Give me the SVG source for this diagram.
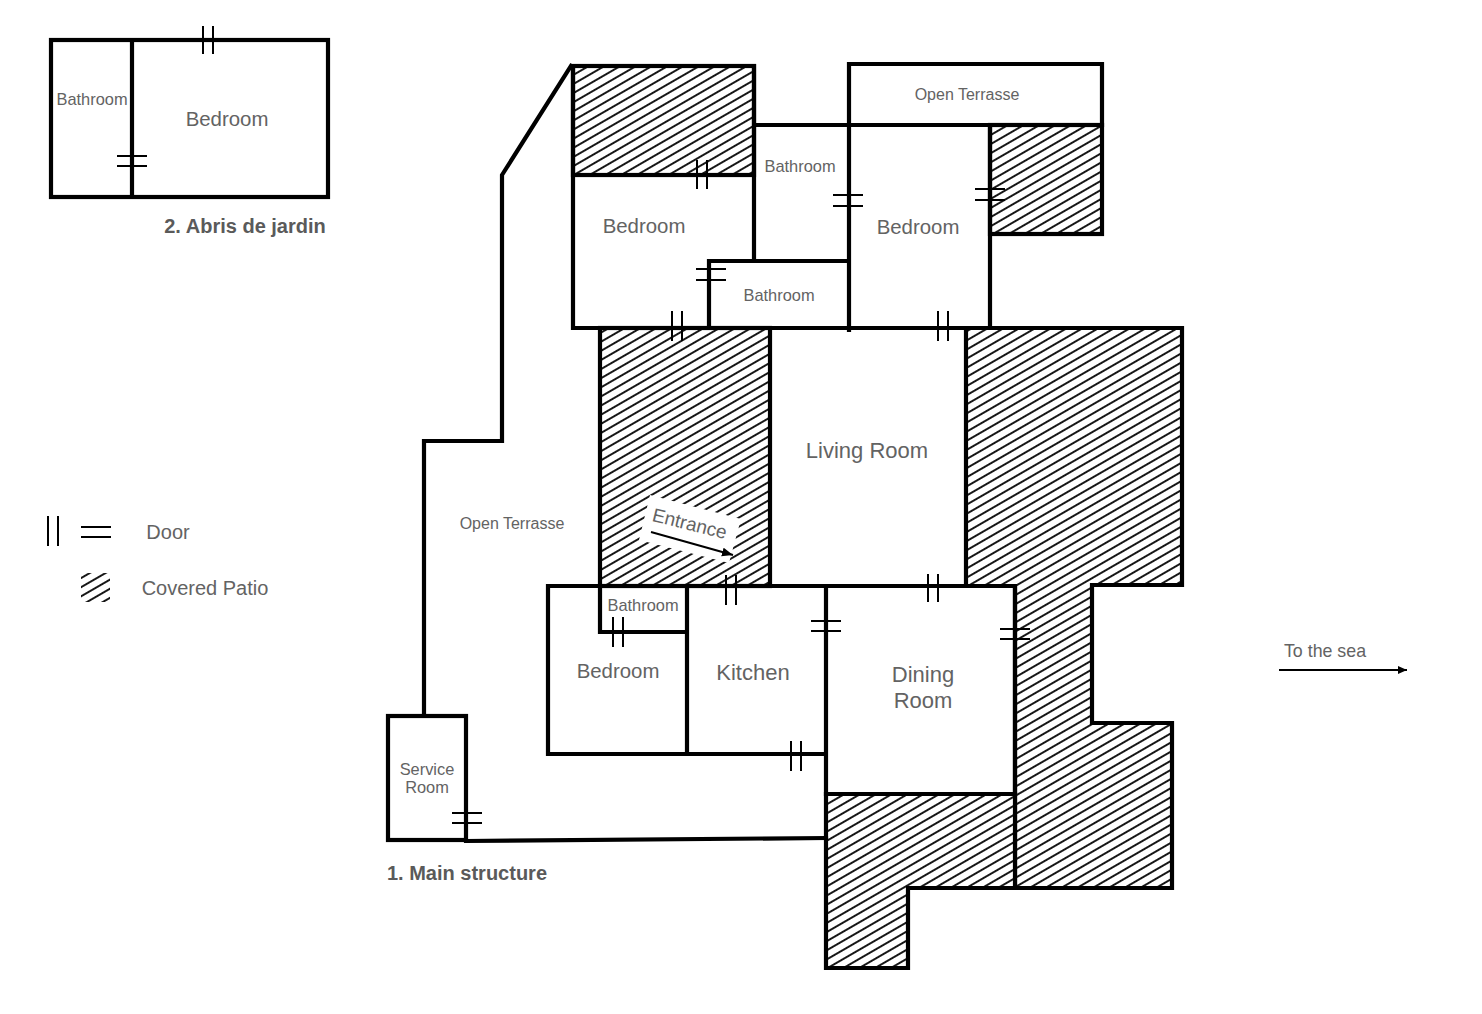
<svg xmlns="http://www.w3.org/2000/svg" width="1482" height="1014" viewBox="0 0 1482 1014">
<style>
text{font-family:"Liberation Sans",Arial,sans-serif;fill:#636363;text-anchor:middle}
.w{fill:none;stroke:#000;stroke-width:4.2;stroke-linecap:square;stroke-linejoin:miter}
.h{fill:url(#hatch);stroke:#000;stroke-width:4.2}
.d{fill:none;stroke:#000;stroke-width:2}
.s{font-size:16.4px}.m{font-size:20.4px}.l{font-size:22px}.b{font-size:20px;font-weight:bold;fill:#5a5a5a}
</style>
<defs>
<pattern id="hatch" width="10" height="7.9" patternUnits="userSpaceOnUse" patternTransform="rotate(-30)">
<rect width="10" height="7.9" fill="#fff"/><line x1="0" y1="3.95" x2="10" y2="3.95" stroke="#000" stroke-width="1.8"/>
</pattern>
<marker id="ah" markerWidth="12" markerHeight="10" refX="11" refY="4.5" orient="auto" markerUnits="userSpaceOnUse"><path d="M0 0L11 4.5L0 9Z" fill="#000"/></marker>
<marker id="as" markerWidth="10" markerHeight="10" refX="9" refY="4" orient="auto" markerUnits="userSpaceOnUse"><path d="M0 0L9 4L0 8Z" fill="#000"/></marker>
</defs>
<rect width="1482" height="1014" fill="#fff"/>
<g id="patios">
<rect class="h" x="573" y="66" width="181" height="109"/>
<rect class="h" x="990" y="125" width="112" height="109"/>
<rect class="h" x="600" y="328" width="170" height="258"/>
<path class="h" d="M966 328H1182V585H1092V723H1172V888H1015V586H966Z"/>
<path class="h" d="M826 794H1015V888H908V968H826Z"/>
</g>
<g id="walls">
<path class="w" d="M571 66L502 175V441H424V716"/>
<path class="w" d="M466 841L826 838"/>
<path class="w" d="M573 66H754V261M573 66V328H990M573 175H754M754 125H1102M849 64H1102V125M849 64V330M990 125V328M709 328V261H849"/>
<path class="w" d="M548 586H1015V794H826M548 586V754H826M687 586V754M826 586V794M600 586V632H687"/>
</g>
<g id="abris"><rect class="w" x="51" y="40" width="277" height="157"/><path class="w" d="M132 40V197"/></g>
<g id="service-room"><rect class="w" x="388" y="716" width="78" height="124" fill="#fff"/></g>
<g id="doors">
<path class="d" d="M203 26V54M213 26V54M117 156H147M117 166H147M697 160V189M707 160V189M833 195H863M833 206H863M975 189H1005M975 200H1005M696 269H726M696 280H726M672 311V341M682 311V341M938 311V341M948 311V341M726 575V605M736 575V605M928 574V602M938 574V602M613 617V647M623 617V647M811 621H841M811 631H841M1000 629H1030M1000 639H1030M791 741V771M801 741V771M452 813H482M452 823H482"/>
</g>
<g id="entrance">
<path d="M650 495L741 519L729 563L639 540Z" fill="#fff"/>
<text x="689.5" y="530" font-size="19" transform="rotate(14 689 524)">Entrance</text>
<line x1="651" y1="532" x2="733" y2="555" stroke="#000" stroke-width="2" marker-end="url(#ah)"/>
</g>
<g id="labels">
<text class="s" x="92" y="105">Bathroom</text>
<text class="m" x="227" y="126">Bedroom</text>
<text class="b" x="245" y="233">2. Abris de jardin</text>
<text class="s" x="967" y="100" style="font-size:16px">Open Terrasse</text>
<text class="s" x="800" y="172">Bathroom</text>
<text class="m" x="644" y="233">Bedroom</text>
<text class="m" x="918" y="234">Bedroom</text>
<text class="s" x="779" y="301">Bathroom</text>
<text class="l" x="867" y="458">Living Room</text>
<text class="s" x="512" y="529" style="font-size:16px">Open Terrasse</text>
<text class="s" x="643" y="611">Bathroom</text>
<text class="m" x="618" y="678">Bedroom</text>
<text class="l" x="753" y="680">Kitchen</text>
<text class="l" x="923" y="682">Dining</text>
<text class="l" x="923" y="708">Room</text>
<text class="s" x="427" y="775">Service</text>
<text class="s" x="427" y="793">Room</text>
<text class="b" x="467" y="880">1. Main structure</text>
</g>
<g id="legend">
<path class="d" d="M48 516V546M58 516V546M81 527H111M81 537H111"/>
<text x="168" y="539" font-size="20">Door</text>
<rect x="81" y="573" width="29" height="29" fill="url(#hatch)"/>
<text x="205" y="595" font-size="20">Covered Patio</text>
</g>
<g id="sea">
<text x="1325" y="657" font-size="17.8">To the sea</text>
<line x1="1279" y1="670" x2="1407" y2="670" stroke="#000" stroke-width="2" marker-end="url(#as)"/>
</g>
</svg>
